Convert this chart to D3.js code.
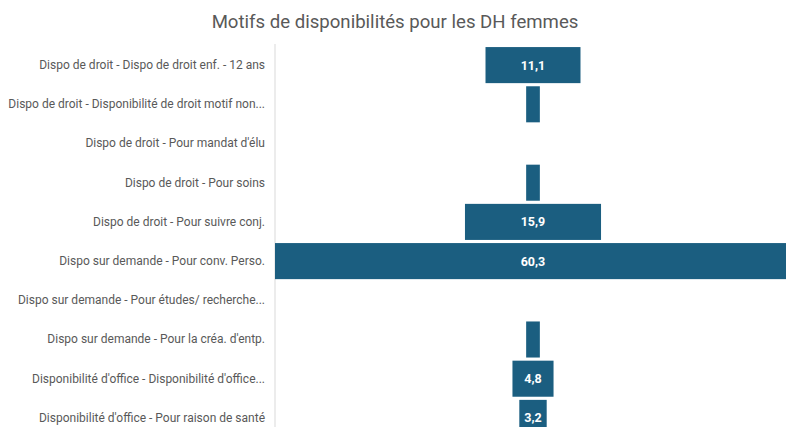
<!DOCTYPE html>
<html>
<head>
<meta charset="utf-8">
<script src="https://cdn.jsdelivr.net/npm/d3@7"></script>
<style>
  body { margin: 0; background: #fff; overflow: hidden; }
  svg { display: block; }
</style>
</head>
<body>
<div id="chart"></div>
<script>
// data
var categories = [
  "Dispo de droit - Dispo de droit enf. - 12 ans",
  "Dispo de droit - Disponibilité de droit motif non...",
  "Dispo de droit - Pour mandat d'élu",
  "Dispo de droit - Pour soins",
  "Dispo de droit - Pour suivre conj.",
  "Dispo sur demande - Pour conv. Perso.",
  "Dispo sur demande - Pour études/ recherche...",
  "Dispo sur demande - Pour la créa. d'entp.",
  "Disponibilité d'office - Disponibilité d'office...",
  "Disponibilité d'office - Pour raison de santé"
];
var values = [11.1, 1.6, 0, 1.6, 15.9, 60.3, 0, 1.6, 4.8, 3.2];
var title = "Motifs de disponibilités pour les DH femmes";

var width = 786, height = 427;
var color = "#1b5e80";

var svg = d3.select("#chart").append("svg")
  .attr("width", width)
  .attr("height", height);

svg.append("text")
  .attr("x", 395)
  .attr("y", 28)
  .attr("text-anchor", "middle")
  .attr("font-family", "Roboto, sans-serif")
  .attr("font-size", "18.6px")
  .attr("fill", "#595959")
  .text(title);

var left = 275, center = 533;

var y = d3.scaleBand()
  .domain(categories)
  .range([45.5, 437.5])
  .paddingInner(0.08)
  .paddingOuter(0.04);

// half width scale, centred bars (funnel)
var w = d3.scaleLinear()
  .domain([0, 60.3])
  .range([0, center - left]);

// axis line
svg.append("line")
  .attr("x1", left).attr("x2", left)
  .attr("y1", 44).attr("y2", height)
  .attr("stroke", "#d9d9d9")
  .attr("stroke-width", 1);

svg.selectAll("rect.bar")
  .data(values)
  .enter()
  .append("rect")
  .attr("class", "bar")
  .attr("x", function(d) { return center - w(d); })
  .attr("y", function(d, i) { return y(categories[i]); })
  .attr("width", function(d) { return 2 * w(d); })
  .attr("height", y.bandwidth())
  .attr("fill", color);

svg.selectAll("text.val")
  .data(values)
  .enter()
  .filter(function(d) { return d >= 3; })
  .append("text")
  .attr("class", "val")
  .attr("x", center)
  .attr("y", function(d) { return y(categories[values.indexOf(d)]) + y.bandwidth() / 2 + 4.5; })
  .attr("text-anchor", "middle")
  .attr("font-family", "Roboto, sans-serif")
  .attr("font-weight", "bold")
  .attr("font-size", "12.5px")
  .attr("fill", "#fff")
  .text(function(d) { return d3.format(".1f")(d).replace(".", ","); });

var yAxis = d3.axisLeft(y).tickSize(0).tickPadding(10);
var g = svg.append("g")
  .attr("transform", "translate(" + left + ",0)")
  .call(yAxis);
g.select(".domain").remove();
g.selectAll("text")
  .attr("font-family", "Roboto, sans-serif")
  .attr("font-size", "12px")
  .attr("fill", "#595959");
</script>
</body>
</html>
